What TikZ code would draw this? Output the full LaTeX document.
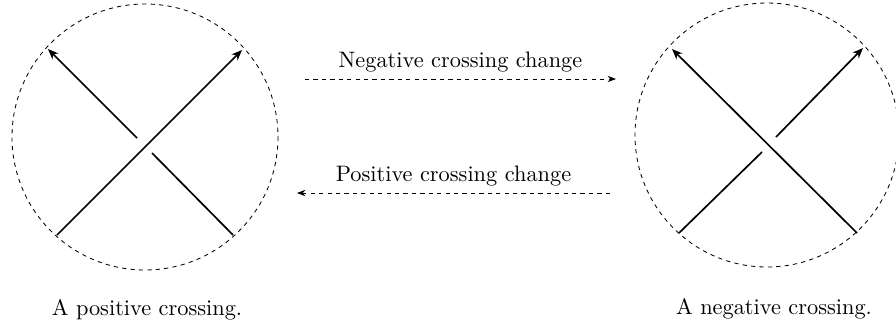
\documentclass[tikz,border=0pt]{standalone}
\usetikzlibrary{arrows.meta}
\begin{document}
\begin{tikzpicture}[x=0.4744pt,y=-0.4744pt,
  strand/.style={line width=0.8pt},
  arrstrand/.style={strand,-{Stealth[length=5pt,width=4pt]}},
  disk/.style={dashed,line width=0.4pt,dash pattern=on 2pt off 2pt},
  change/.style={dashed,line width=0.4pt,dash pattern=on 2pt off 2pt,-{Stealth[length=4pt,width=3pt]}},
  lbl/.style={inner sep=0pt,font=\fontsize{10.6pt}{12.7pt}\selectfont}]
\useasboundingbox (0,0) rectangle (896,323);
% left disc: positive crossing
\draw[disk] (145,137) circle (133);
\coordinate (L1s) at (57,235);
\coordinate (L1e) at (242,50);
\coordinate (L2s) at (233,235);
\coordinate (L2a) at (152,153);
\coordinate (L2b) at (137,138);
\coordinate (L2e) at (48,49);
\draw[arrstrand] (L1s) -- (L1e);
\draw[strand] (L2s) -- (L2a);
\draw[arrstrand] (L2b) -- (L2e);
\node[lbl] (capL) at (147,310) {A positive crossing.};
% right disc: negative crossing
\draw[disk] (767,135) circle (132);
\coordinate (R1s) at (857,233);
\coordinate (R1e) at (672,49);
\coordinate (R2s) at (679,233);
\coordinate (R2a) at (762,152);
\coordinate (R2b) at (776,137);
\coordinate (R2e) at (863,48);
\draw[arrstrand] (R1s) -- (R1e);
\draw[strand] (R2s) -- (R2a);
\draw[arrstrand] (R2b) -- (R2e);
\node[lbl] (capR) at (774,309) {A negative crossing.};
% crossing changes
\coordinate (nA) at (305,79);
\coordinate (nB) at (616,79);
\coordinate (pA) at (610,193);
\coordinate (pB) at (297,193);
\draw[change] (nA) -- node[above=3pt,lbl] (negl) {Negative crossing change} (nB);
\draw[change] (pA) -- node[above=3pt,lbl] (posl) {Positive crossing change} (pB);
\end{tikzpicture}
\end{document}
